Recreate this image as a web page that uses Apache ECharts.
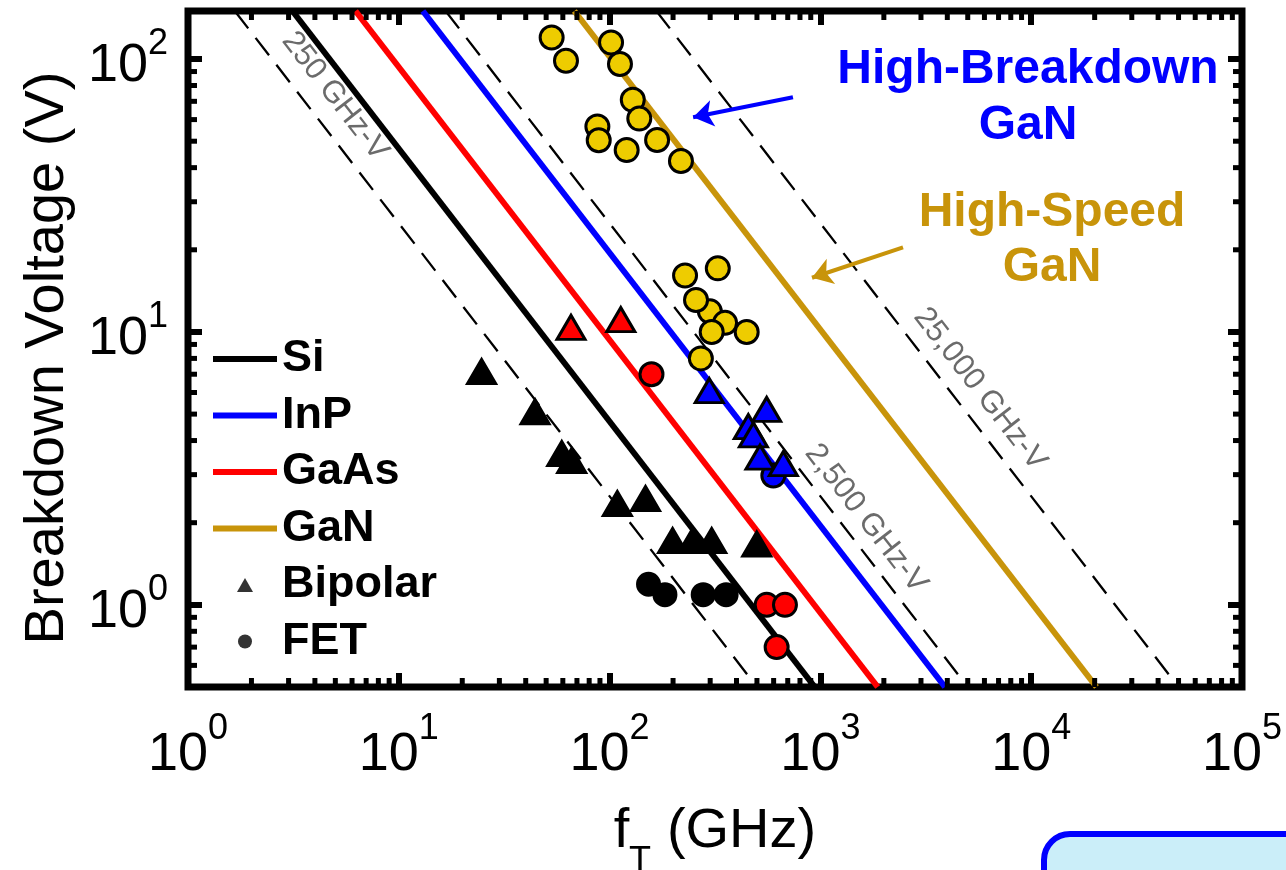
<!DOCTYPE html>
<html>
<head>
<meta charset="utf-8">
<script src="https://cdn.jsdelivr.net/npm/echarts@6/dist/echarts.min.js"></script>
<style>
  html, body { margin: 0; padding: 0; background: #fff; }
  #chart { width: 1286px; height: 870px; }
</style>
</head>
<body>
<div id="chart"></div>
<script>
var FONT = "'Liberation Sans', Arial, Helvetica, sans-serif";
var X_MIN = 1, X_MAX = 100000;
var Y_MIN = 0.5, Y_MAX = 150;

// material limit lines, end points read at the frame edges [fT GHz, BV V]
var siLine = [[3.13, 150], [940, 0.5]];
var inpLine = [[13, 150], [3900, 0.5]];
var gaasLine = [[6.23, 150], [1870, 0.5]];
var ganLine = [[68, 150], [20400, 0.5]];

// constant fT*BV guides
var guide250 = [[1.667, 150], [500, 0.5]];
var guide2500 = [[16.67, 150], [5000, 0.5]];
var guide25000 = [[166.7, 150], [50000, 0.5]];
var guideLabels = [
    { name: '250 GHz-V', value: [4.98, 73.1] },
    { name: '2,500 GHz-V', value: [1645, 2.07] },
    { name: '25,000 GHz-V', value: [5716, 6.17] }
];

// devices [fT, BV]
var siBipolar = [[24.7, 7.15], [44.3, 5.1], [59.3, 3.58], [66.1, 3.38], [108.8, 2.35],
                 [148, 2.45], [199, 1.72], [248, 1.72], [305, 1.72], [499, 1.67]];
var siFet = [[153, 1.19], [183, 1.09], [278, 1.09], [357, 1.09]];
var gaasBipolar = [[65.6, 10.4], [113, 11.1]];
var gaasFet = [[158, 7.0], [556, 1.0], [679, 1.0], [620, 0.70]];
var inpFet = [[598, 2.98]];
var inpBipolar = [[297, 6.1], [556, 5.2], [455, 4.5], [481, 4.2], [517, 3.48], [667, 3.29]];
var ganFet = [[53.1, 120], [62.1, 98.6], [101.6, 115], [112, 95.9], [128.8, 70.9],
              [138.3, 60.5], [87.5, 56.6], [88.8, 50.4], [120.5, 46.4], [168, 50.5],
              [218, 42.3], [228, 16.1], [326, 17.1], [299, 11.9], [353, 10.8],
              [257, 13.1], [305, 10.0], [447, 10.0], [271, 8.0]];

// annotation arrows [from, to]
var arrowBreakdown = [[741, 72.5], [249, 61.2]];
var arrowSpeed = [[2466, 20.4], [912, 15.8]];

// minor ticks of the log axes
var mantissas = [2, 3, 4, 5, 6, 7, 8, 9];
var xDecades = [1, 10, 100, 1000, 10000];
var yDecades = [0.1, 1, 10, 100];

var xMinor = [], yMinor = [];
xDecades.forEach(function (d) {
    mantissas.forEach(function (m) { xMinor.push([m * d, Y_MIN]); });
});
yDecades.forEach(function (d) {
    mantissas.forEach(function (m) {
        var v = m * d;
        if (v > Y_MIN && v < Y_MAX) yMinor.push([X_MIN, v]);
    });
});

var LINE_ICON = 'path://M0,0H64V6H0Z';
var TRI_ICON = 'path://M8,0L16,14H0Z';
var DOT_ICON = 'path://M7,0A7,7,0,1,1,7,14A7,7,0,1,1,7,0Z';

function isPow10(v) {
    var l = Math.log10(v);
    return Math.abs(l - Math.round(l)) < 1e-6;
}
// mantissa "10" and exponent go on two axes so the exponent can sit raised
function baseLabel(v) { return isPow10(v) ? '10' : ''; }
function expLabel(v) { return isPow10(v) ? String(Math.round(Math.log10(v))) : ''; }

function lineSeries(name, data, color) {
    return {
        name: name, type: 'line', data: data, symbol: 'none', silent: true,
        lineStyle: { color: color, width: 6 }, itemStyle: { color: color }, z: 2
    };
}
function guideSeries(name, data) {
    return {
        name: name, type: 'line', data: data, symbol: 'none', silent: true,
        lineStyle: { color: '#000', width: 2.3, type: [22, 12] }, z: 1
    };
}
function markerSeries(name, data, symbol, color, border, size) {
    return {
        name: name, type: 'scatter', data: data, symbol: symbol, symbolSize: size,
        itemStyle: { color: color, borderColor: '#000', borderWidth: border, opacity: 1 },
        z: 4
    };
}
function arrowSeries(name, pts, color) {
    return {
        name: name, type: 'line', data: [], silent: true,
        markLine: {
            silent: true, animation: false,
            symbol: ['none', 'arrow'], symbolSize: 20,
            label: { show: false },
            lineStyle: { color: color, width: 4, type: 'solid' },
            data: [[{ coord: pts[0] }, { coord: pts[1] }]]
        }
    };
}
function minorTicks(name, data, isX) {
    return {
        name: name, type: 'custom', data: data, silent: true, z: 5,
        renderItem: function (params, api) {
            var st = { stroke: '#000', lineWidth: 5 };
            if (isX) {
                var b = api.coord([api.value(0), Y_MIN]);
                var t = api.coord([api.value(0), Y_MAX]);
                return { type: 'group', children: [
                    { type: 'line', shape: { x1: b[0], y1: b[1], x2: b[0], y2: b[1] - 9 }, style: st },
                    { type: 'line', shape: { x1: t[0], y1: t[1], x2: t[0], y2: t[1] + 9 }, style: st }
                ] };
            }
            var l = api.coord([X_MIN, api.value(1)]);
            var r = api.coord([X_MAX, api.value(1)]);
            return { type: 'group', children: [
                { type: 'line', shape: { x1: l[0], y1: l[1], x2: l[0] + 9, y2: l[1] }, style: st },
                { type: 'line', shape: { x1: r[0], y1: r[1], x2: r[0] - 9, y2: r[1] }, style: st }
            ] };
        }
    };
}

var chart = echarts.init(document.getElementById('chart'));
var tickStyle = { inside: true, length: 14, lineStyle: { color: '#000', width: 6 } };
var bare = {
    axisLine: { show: false }, axisTick: { show: false }, splitLine: { show: false }
};

var option = {
    animation: false,
    backgroundColor: '#fff',
    grid: {
        left: 188, right: 44, top: 11, bottom: 183,
        show: true, borderWidth: 7, borderColor: '#000',
        outerBoundsMode: 'none'
    },
    legend: {
        orient: 'vertical', left: 213, top: 336, padding: 0,
        itemWidth: 64, itemHeight: 14, itemGap: 10.5,
        selectedMode: false,
        textStyle: { fontSize: 45, fontWeight: 'bold', fontFamily: FONT, color: '#000', lineHeight: 46 },
        data: [
            { name: 'Si', icon: LINE_ICON },
            { name: 'InP', icon: LINE_ICON },
            { name: 'GaAs', icon: LINE_ICON },
            { name: 'GaN', icon: LINE_ICON },
            { name: 'Bipolar', icon: TRI_ICON },
            { name: 'FET', icon: DOT_ICON }
        ]
    },
    xAxis: [{
        type: 'log', logBase: 10, min: X_MIN, max: X_MAX,
        name: '{f|f}{sp|}{n| (GHz)}', nameLocation: 'middle', nameGap: 115, nameMoveOverlap: false,
        nameTextStyle: {
            rich: {
                f: { fontSize: 56, fontFamily: FONT, color: '#000', lineHeight: 60 },
                sp: { width: 22, fontSize: 56, lineHeight: 60 },
                n: { fontSize: 56, fontFamily: FONT, color: '#000', lineHeight: 60 }
            }
        },
        axisLine: { show: false },
        axisTick: tickStyle,
        splitLine: { show: false },
        axisLabel: {
            margin: 38, formatter: baseLabel, fontSize: 54, lineHeight: 60,
            fontFamily: FONT, color: '#000', padding: [0, 20, 0, 0]
        }
    }, {
        type: 'log', logBase: 10, min: X_MIN, max: X_MAX, position: 'top',
        axisLine: { show: false }, axisTick: tickStyle,
        splitLine: { show: false }, axisLabel: { show: false }
    }, {
        type: 'log', logBase: 10, min: X_MIN, max: X_MAX, position: 'bottom',
        axisLine: bare.axisLine, axisTick: bare.axisTick, splitLine: bare.splitLine,
        name: 'T', nameLocation: 'middle', nameGap: 157, nameMoveOverlap: false,
        nameTextStyle: { fontSize: 36, fontFamily: FONT, color: '#000', lineHeight: 36, padding: [0, 150, 0, 0] },
        axisLabel: {
            margin: 22, formatter: expLabel, fontSize: 36, lineHeight: 40, align: 'left',
            fontFamily: FONT, color: '#000', padding: [0, 0, 0, 20]
        }
    }],
    yAxis: [{
        type: 'log', logBase: 10, min: Y_MIN, max: Y_MAX,
        name: 'Breakdown Voltage (V)', nameLocation: 'middle', nameGap: 112, nameMoveOverlap: false,
        nameTextStyle: { fontSize: 56, fontFamily: FONT, color: '#000', padding: [0, 18, 0, 0] },
        axisLine: { show: false },
        axisTick: tickStyle,
        splitLine: { show: false },
        axisLabel: {
            margin: 40, formatter: baseLabel, fontSize: 54, fontFamily: FONT, color: '#000',
            verticalAlign: 'top', lineHeight: 14
        }
    }, {
        type: 'log', logBase: 10, min: Y_MIN, max: Y_MAX, position: 'right',
        axisLine: { show: false }, axisTick: tickStyle,
        splitLine: { show: false }, axisLabel: { show: false }
    }, {
        type: 'log', logBase: 10, min: Y_MIN, max: Y_MAX, position: 'left',
        axisLine: bare.axisLine, axisTick: bare.axisTick, splitLine: bare.splitLine,
        axisLabel: {
            margin: 20, formatter: expLabel, fontSize: 36, fontFamily: FONT, color: '#000',
            verticalAlign: 'bottom', lineHeight: 30
        }
    }],
    graphic: [
        {
            type: 'text', x: 1028, y: 42, silent: true,
            style: { text: 'High-Breakdown\nGaN', fill: '#0000FF', font: 'bold 48px ' + FONT,
                     align: 'center', verticalAlign: 'top', lineHeight: 56 }
        },
        {
            type: 'text', x: 1052, y: 185, silent: true,
            style: { text: 'High-Speed\nGaN', fill: '#C8940A', font: 'bold 48px ' + FONT,
                     align: 'center', verticalAlign: 'top', lineHeight: 55 }
        },
        {
            type: 'rect', silent: true,
            shape: { x: 1044, y: 834, width: 400, height: 200, r: 26 },
            style: { fill: '#CBEEF9', stroke: '#0000FF', lineWidth: 6 }
        }
    ],
    series: [
        guideSeries('g250', guide250),
        guideSeries('g2500', guide2500),
        guideSeries('g25000', guide25000),
        {
            name: 'guideLabels', type: 'scatter', data: guideLabels, symbolSize: 1, silent: true,
            itemStyle: { color: 'rgba(0,0,0,0)' },
            label: {
                show: true, position: 'inside', rotate: -52.2, formatter: '{b}',
                fontSize: 31, fontFamily: FONT, color: '#464646'
            }, z: 3
        },
        lineSeries('Si', siLine, '#000000'),
        lineSeries('InP', inpLine, '#0000FF'),
        lineSeries('GaAs', gaasLine, '#FF0000'),
        lineSeries('GaN', ganLine, '#C8940A'),
        arrowSeries('arrowBreakdown', arrowBreakdown, '#0000FF'),
        arrowSeries('arrowSpeed', arrowSpeed, '#C8940A'),
        markerSeries('Si FET', siFet, 'circle', '#000', 3, 22),
        markerSeries('Si bipolar', siBipolar, 'triangle', '#000', 3, [28, 24]),
        markerSeries('GaAs bipolar', gaasBipolar, 'triangle', '#FF0000', 3, [28, 24]),
        markerSeries('GaAs FET', gaasFet, 'circle', '#FF0000', 3, 23),
        markerSeries('InP FET', inpFet, 'circle', '#0000FF', 3, 23),
        markerSeries('InP bipolar', inpBipolar, 'triangle', '#0000FF', 3, [28, 24]),
        markerSeries('GaN FET', ganFet, 'circle', '#EECC00', 3, 23),
        { name: 'Bipolar', type: 'scatter', data: [], symbol: 'triangle', itemStyle: { color: '#000' } },
        { name: 'FET', type: 'scatter', data: [], symbol: 'circle', itemStyle: { color: '#000' } },
        minorTicks('xMinor', xMinor, true),
        minorTicks('yMinor', yMinor, false)
    ]
};
chart.setOption(option);
</script>
</body>
</html>
